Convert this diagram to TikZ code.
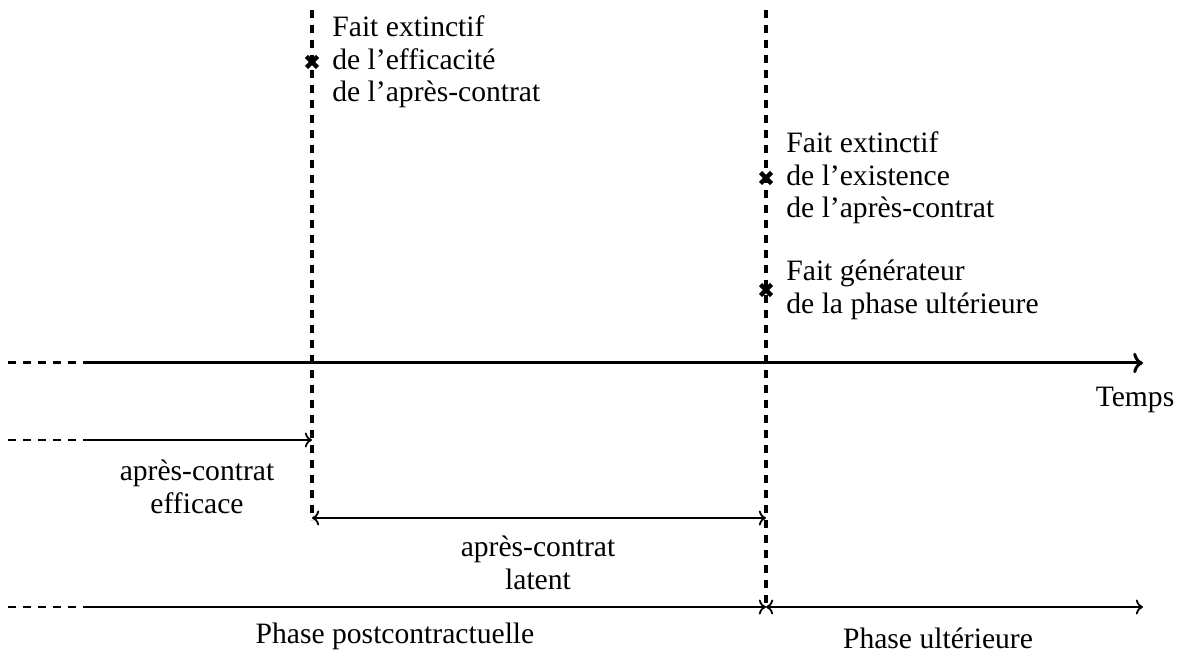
\documentclass[tikz,border=0pt]{standalone}
\usepackage{fontspec}
\setmainfont{Liberation Serif}
\usetikzlibrary{arrows.meta}
\begin{document}
\begin{tikzpicture}[x=0.5pt,y=-0.5pt,
  lbl/.style={font=\fontsize{14.8}{16.2}\selectfont, inner sep=0pt, align=center},
  txt/.style={lbl, align=left, anchor=west},
  vdash/.style={line width=1.7pt, dash pattern=on 4pt off 3.5pt},
  hdash/.style={dash pattern=on 4pt off 3.5pt},
  axis/.style={line width=1.5pt},
  thinax/.style={line width=0.9pt},
  mk/.style={line width=2.2pt}]
\useasboundingbox (0,0) rectangle (1184,652);
% coordinates
\coordinate (L top) at (312,10);
\coordinate (L bot) at (312,520);
\coordinate (R top) at (766,10);
\coordinate (R bot) at (766,607);
\coordinate (ax0) at (8,363);
\coordinate (ax1) at (85,363);
\coordinate (ax2) at (1143,363);
\coordinate (e0) at (8,440);
\coordinate (e1) at (85,440);
\coordinate (e2) at (312,440);
\coordinate (l1) at (312,518);
\coordinate (l2) at (766,518);
\coordinate (p0) at (8,607);
\coordinate (p1) at (85,607);
\coordinate (p2) at (766,607);
\coordinate (p3) at (1143,607);
\coordinate (c1) at (312,62);
\coordinate (c2) at (766,178);
\coordinate (c3) at (766,290);
% vertical dashed lines
\draw[vdash] (L top) -- (L bot);
\draw[vdash] (R top) -- (R bot);
% time axis
\draw[axis, hdash] (ax0) -- (ax1);
\draw[axis, ->] (ax1) -- (ax2);
\node[lbl] (temps) at (1135,400) {Temps};
% efficace
\draw[thinax, hdash] (e0) -- (e1);
\draw[thinax, ->] (e1) -- (e2);
\node[lbl] (eff) at (197,487) {après-contrat\\efficace};
% latent
\draw[thinax, <->] (l1) -- (l2);
\node[lbl] (lat) at (538,563) {après-contrat\\latent};
% phases
\draw[thinax, hdash] (p0) -- (p1);
\draw[thinax, ->] (p1) -- (p2);
\draw[thinax, <->] (p2) -- (p3);
\node[lbl] (post) at (395,636) {Phase postcontractuelle};
\node[lbl] (ult) at (938,638) {Phase ultérieure};
% crosses
\foreach \c in {c1,c2,c3}
  \draw[mk] (\c) +(-5.5,-5.5) -- +(5.5,5.5) (\c) +(-5.5,5.5) -- +(5.5,-5.5);
% texts
\node[txt] (t1) at (332,62) {Fait extinctif\\de l’efficacité\\de l’après-contrat};
\node[txt] (t2) at (786,178) {Fait extinctif\\de l’existence\\de l’après-contrat};
\node[txt] (t3) at (786,290) {Fait générateur\\de la phase ultérieure};
\end{tikzpicture}
\end{document}
